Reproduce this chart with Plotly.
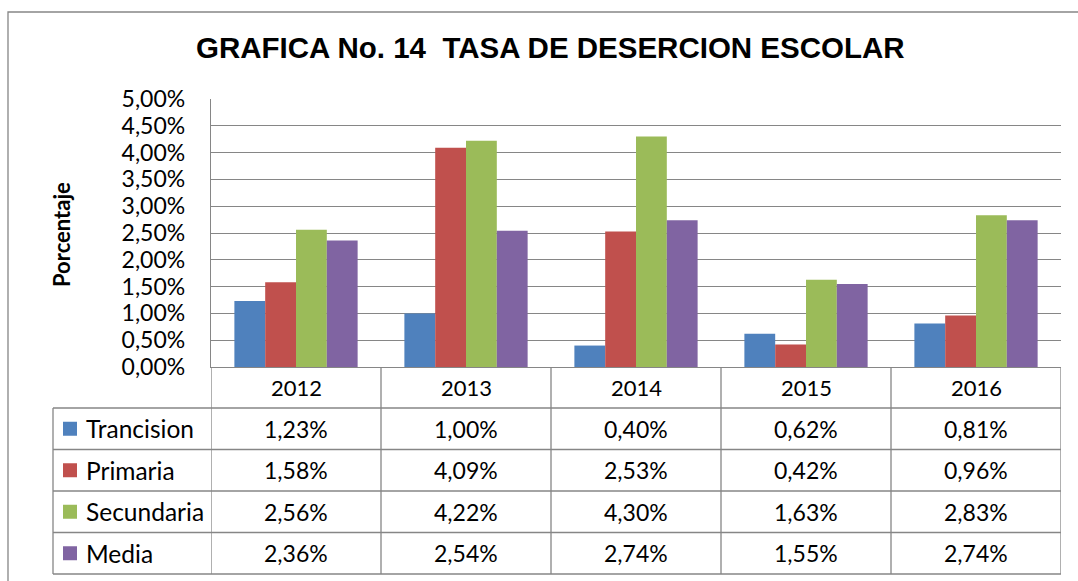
import plotly.graph_objects as go

# ---------------- data ----------------
years = ["2012", "2013", "2014", "2015", "2016"]
series_names = ["Trancision", "Primaria", "Secundaria", "Media"]
trancision = [1.23, 1.00, 0.40, 0.62, 0.81]
primaria = [1.58, 4.09, 2.53, 0.42, 0.96]
secundaria = [2.56, 4.22, 4.30, 1.63, 2.83]
media = [2.36, 2.54, 2.74, 1.55, 2.74]
series_values = [trancision, primaria, secundaria, media]
colors = ["#4F81BD", "#C0504D", "#9BBB59", "#8064A2"]
title_text = "GRAFICA No. 14 \u00a0TASA DE DESERCION ESCOLAR"
y_title = "Porcentaje"

# ---------------- layout constants (pixels) ----------------
W, H = 1078, 581
PLOT_L, PLOT_R, PLOT_T, PLOT_B = 211, 1061, 99, 367
TABLE_L = 53
ROW_TOP = 408
ROW_H = 41.5
GRID = "#868686"
FONT = "Lato"


def px(x):
    return x / W


def py(y):
    return 1 - y / H


fig = go.Figure()
for name, vals, col in zip(series_names, series_values, colors):
    fig.add_trace(go.Bar(x=years, y=vals, name=name,
                         marker=dict(color=col, line=dict(width=0)),
                         showlegend=False))

shapes = []
annotations = []

# outer chart border
shapes.append(dict(type="rect", xref="paper", yref="paper",
                   x0=px(8), x1=px(W + 20), y0=py(12), y1=py(H + 20),
                   line=dict(color=GRID, width=1.3), fillcolor="rgba(0,0,0,0)",
                   layer="below"))

table_bottom = ROW_TOP + ROW_H * len(series_names)

# vertical category separators (data table)
for i in range(len(years) + 1):
    shapes.append(dict(type="line", xref="x", yref="paper",
                       x0=i - 0.5, x1=i - 0.5, y0=py(PLOT_B), y1=py(table_bottom),
                       line=dict(color=GRID, width=1.3)))
# legend column left border
shapes.append(dict(type="line", xref="paper", yref="paper",
                   x0=px(TABLE_L), x1=px(TABLE_L), y0=py(ROW_TOP), y1=py(table_bottom),
                   line=dict(color=GRID, width=1.3)))
# horizontal row lines
for r in range(len(series_names) + 1):
    yy = ROW_TOP + r * ROW_H
    shapes.append(dict(type="line", xref="paper", yref="paper",
                       x0=px(TABLE_L), x1=px(PLOT_R), y0=py(yy), y1=py(yy),
                       line=dict(color=GRID, width=1.3)))

# year header labels (positioned on the category axis by index)
for i, yr in enumerate(years):
    annotations.append(dict(x=i, xref="x", y=py((PLOT_B + ROW_TOP) / 2), yref="paper",
                            text=yr, showarrow=False, xanchor="center", yanchor="middle",
                            font=dict(family=FONT, size=22, color="#000000")))

# rows: legend key + name + values
for r, (name, vals, col) in enumerate(zip(series_names, series_values, colors)):
    cy = ROW_TOP + r * ROW_H + ROW_H / 2
    shapes.append(dict(type="rect", xref="paper", yref="paper",
                       x0=px(63), x1=px(77), y0=py(cy - 7), y1=py(cy + 7),
                       fillcolor=col, line=dict(width=0)))
    annotations.append(dict(x=px(84), xref="paper", y=py(cy), yref="paper",
                            text=name, showarrow=False, xanchor="left", yanchor="middle",
                            font=dict(family=FONT, size=24.5, color="#000000")))
    for i, v in enumerate(vals):
        annotations.append(dict(x=i, xref="x", y=py(cy), yref="paper",
                                text=f"{v:.2f}%".replace(".", ","), showarrow=False,
                                xanchor="center", yanchor="middle",
                                font=dict(family=FONT, size=23, color="#000000")))

# title
annotations.append(dict(x=px(550), xref="paper", y=py(48), yref="paper",
                        text=f"<b>{title_text}</b>", showarrow=False,
                        xanchor="center", yanchor="middle",
                        font=dict(family="Liberation Sans, Arial", size=29.5, color="#000000")))
# y-axis title
annotations.append(dict(x=px(62), xref="paper", y=py(235), yref="paper",
                        text=f"<b>{y_title}</b>", showarrow=False, textangle=-90,
                        xanchor="center", yanchor="middle",
                        font=dict(family=FONT, size=22, color="#000000")))

fig.update_layout(
    width=W, height=H, autosize=False,
    margin=dict(l=0, r=0, t=0, b=0, pad=0),
    paper_bgcolor="white", plot_bgcolor="white",
    separators=",.",
    barmode="group", bargap=0.275, bargroupgap=0,
    shapes=shapes, annotations=annotations,
    xaxis=dict(type="category", domain=[px(PLOT_L), px(PLOT_R)], range=[-0.5, len(years) - 0.5],
               showticklabels=False, automargin=False,
               showgrid=False, showline=True, linecolor=GRID, linewidth=1.3,
               ticks="", zeroline=False, fixedrange=True),
    yaxis=dict(domain=[py(PLOT_B), py(PLOT_T)], range=[0, 5], dtick=0.5,
               tickformat=".2f", ticksuffix="%", automargin=False,
               showgrid=True, gridcolor=GRID, gridwidth=1.3,
               showline=True, linecolor=GRID, linewidth=1.3,
               zeroline=False, ticks="outside", ticklen=0,
               ticklabelstandoff=20,
               tickfont=dict(family=FONT, size=23, color="#000000"),
               fixedrange=True),
    font=dict(family=FONT),
)

fig.write_html("out.html", config={"displayModeBar": False},
               post_script="document.body.style.margin='0';document.body.style.overflow='hidden';")
